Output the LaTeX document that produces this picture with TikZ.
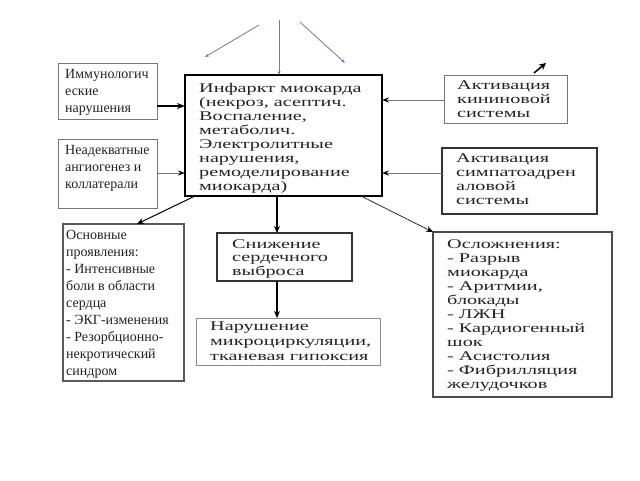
\documentclass[tikz,border=0pt]{standalone}
\usepackage{fontspec}
\setmainfont{Liberation Serif}
\newfontfamily\widefont[FakeStretch=1.52]{Liberation Serif}
\usetikzlibrary{arrows.meta}
\definecolor{slate}{RGB}{105,125,165}
\definecolor{txtgray}{RGB}{35,35,35}
\definecolor{boxgray}{RGB}{120,120,120}
\begin{document}
\begin{tikzpicture}[x=1pt,y=-1pt,
  box/.style={draw=boxgray, line width=1pt, inner sep=0pt, outer sep=0pt, anchor=north west},
  mainbox/.style={box, draw=black, line width=1.5pt},
  darkbox/.style={box, draw=black!80, line width=1.2pt},
  wtxt/.style={anchor=north west, inner sep=0pt, align=left, text=txtgray,
    font=\widefont\fontsize{13.3}{14}\selectfont},
  ltxt/.style={anchor=north west, inner sep=0pt, align=left, text=txtgray,
    font=\fontsize{14}{17}\selectfont},
  thickarrow/.style={line width=2pt, -{Stealth[length=8pt,width=6pt]}},
  grayarrow/.style={draw=boxgray, line width=1pt, -{Stealth[length=7pt,width=5pt,color=black]}},
  blackarrow/.style={draw=black, line width=1.2pt, -{Stealth[length=7pt,width=6pt]}},
  slatearrow/.style={draw=slate, line width=0.8pt, -{Stealth[length=4pt,width=3pt]}}
]
\useasboundingbox[fill=white] (0,0) rectangle (640,480);

% boxes
\node[box, minimum width=99pt, minimum height=56pt] (immuno) at (58,63) {};
\node[box, minimum width=99pt, minimum height=69pt] (neadek) at (58,139) {};
\node[mainbox, minimum width=197pt, minimum height=121pt] (main) at (185,75) {};
\node[box, minimum width=123pt, minimum height=48pt] (kinin) at (444,75) {};
\node[darkbox, minimum width=155pt, minimum height=66pt] (simpato) at (442,148) {};
\node[darkbox, draw=black!65, minimum width=121pt, minimum height=157pt] (osnov) at (63,224) {};
\node[darkbox, minimum width=135pt, minimum height=48pt] (sniz) at (217,233) {};
\node[box, draw=black!45, minimum width=184pt, minimum height=47pt] (narush) at (196,318) {};
\node[darkbox, draw=black!70, minimum width=179pt, minimum height=165pt] (oslozh) at (433,232) {};

% texts
\node[ltxt] (immunot) at (65,69) {Иммунологич\\еские\\нарушения};
\node[ltxt] (neadekt) at (65,145) {Неадекватные\\ангиогенез и\\коллатерали};
\node[wtxt] (maint) at (199,83) {Инфаркт миокарда\\(некроз, асептич.\\Воспаление,\\метаболич.\\Электролитные\\нарушения,\\ремоделирование\\миокарда)};
\node[wtxt] (kinint) at (457,81) {Активация\\кининовой\\системы};
\node[wtxt] (simpatot) at (456,154) {Активация\\симпатоадрен\\аловой\\системы};
\node[ltxt] (osnovt) at (66,230) {Основные\\проявления:\\- Интенсивные\\боли в области\\сердца\\- ЭКГ-изменения\\- Резорбционно-\\некротический\\синдром};
\node[wtxt, font=\widefont\fontsize{13.3}{13.5}\selectfont] (snizt) at (232,239) {Снижение\\сердечного\\выброса};
\node[wtxt, font=\widefont\fontsize{13.3}{14.8}\selectfont] (narusht) at (210,322) {Нарушение\\микроциркуляции,\\тканевая гипоксия};
\node[wtxt] (oslozht) at (447,239) {Осложнения:\\- Разрыв\\миокарда\\- Аритмии,\\блокады\\- ЛЖН\\- Кардиогенный\\шок\\- Асистолия\\- Фибрилляция\\желудочков};

% incoming arrows
\draw[thickarrow] (immuno.east |- 0,106) -- (main.west |- 0,106);
\draw[grayarrow] (neadek.east |- 0,173) -- (main.west |- 0,173);
\draw[grayarrow] (kinin.west |- 0,100) -- (main.east |- 0,100);
\draw[grayarrow] (simpato.west |- 0,173) -- (main.east |- 0,173);

% outgoing arrows
\draw[draw=black, line width=1pt, -{Stealth[length=7pt,width=6pt]}] (main.south -| 195,0) -- (osnov.north -| 137,0);
\draw[blackarrow] (main.south -| 277,0) -- (sniz.north -| 277,0);
\draw[blackarrow] (sniz.south -| 277,0) -- (narush.north -| 277,0);
\draw[draw=black!85, line width=0.9pt, dash pattern=on 2pt off 0.5pt, -{Stealth[length=7pt,width=6pt,color=black]}] (main.south -| 361,0) -- (oslozh.north west);

% top thin arrows
\coordinate (t1s) at (259,25);
\coordinate (t1e) at (205,57);
\coordinate (t2s) at (279,20);
\coordinate (t3s) at (300,22);
\coordinate (t3e) at (345,63);
\draw[slatearrow] (t1s) -- (t1e);
\draw[slatearrow] (t2s) -- (t2s |- main.north);
\draw[slatearrow] (t3s) -- (t3e);

% small black arrow
\coordinate (ks) at (534,73);
\coordinate (ke) at (546,63);
\draw[line width=1.5pt, -{Stealth[length=7pt,width=7pt]}] (ks) -- (ke);
\end{tikzpicture}
\end{document}
